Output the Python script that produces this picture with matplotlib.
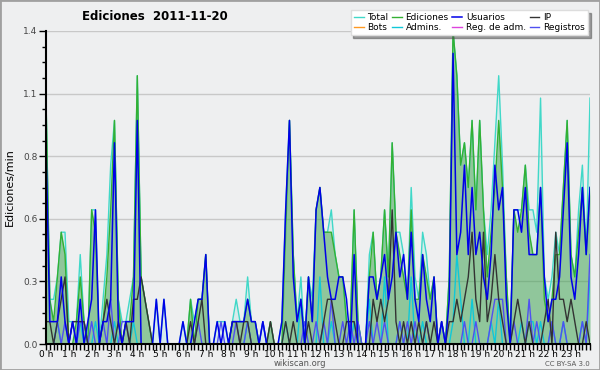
import matplotlib
matplotlib.use("Agg")
import matplotlib.pyplot as plt
import matplotlib.patches as patches
from matplotlib.ticker import FixedLocator, MultipleLocator

# edits per 10-minute slot, 2011-11-20, 144 slots (00:00 .. 23:50)
total = [11, 2, 2, 3, 5, 5, 1, 1, 1, 4, 1, 0, 6, 6, 0, 2, 4, 8,
         10, 2, 1, 1, 2, 3, 12, 3, 2, 1, 0, 2, 0, 2, 0, 0, 0, 0,
         1, 0, 2, 1, 2, 2, 4, 0, 0, 1, 1, 1, 0, 1, 2, 1, 1, 3,
         1, 1, 0, 1, 0, 1, 0, 0, 1, 6, 10, 4, 1, 3, 0, 3, 2, 6,
         7, 5, 5, 6, 4, 3, 3, 1, 1, 6, 1, 0, 0, 4, 5, 2, 3, 6,
         3, 9, 5, 5, 4, 2, 7, 3, 2, 5, 4, 2, 3, 0, 1, 0, 3, 14,
         12, 8, 9, 7, 10, 6, 10, 6, 4, 6, 9, 12, 8, 3, 0, 6, 6, 6,
         8, 6, 6, 5, 11, 3, 2, 3, 5, 4, 7, 10, 4, 3, 6, 8, 4, 11]
ediciones = [11, 2, 1, 3, 5, 4, 0, 0, 1, 3, 1, 0, 6, 5, 0, 1, 3, 6,
             10, 2, 0, 1, 1, 3, 12, 3, 2, 1, 0, 0, 0, 0, 0, 0, 0, 0,
             0, 0, 2, 0, 2, 2, 4, 0, 0, 0, 0, 0, 0, 1, 1, 1, 1, 2,
             1, 1, 0, 0, 0, 1, 0, 0, 0, 5, 10, 4, 1, 2, 0, 3, 1, 6,
             7, 5, 5, 5, 4, 3, 3, 1, 1, 6, 1, 0, 0, 3, 5, 2, 3, 6,
             3, 9, 5, 4, 3, 2, 6, 2, 2, 4, 3, 2, 3, 0, 1, 0, 3, 14,
             12, 8, 9, 7, 10, 6, 10, 6, 3, 5, 7, 10, 7, 3, 0, 6, 5, 6,
             8, 5, 4, 4, 7, 2, 1, 2, 4, 4, 7, 10, 4, 3, 5, 7, 4, 7]
usuarios = [9, 1, 1, 1, 3, 1, 0, 1, 0, 2, 0, 1, 2, 6, 0, 1, 1, 2,
            9, 1, 0, 1, 1, 1, 10, 0, 0, 0, 0, 2, 0, 2, 0, 0, 0, 0,
            1, 0, 0, 1, 2, 2, 4, 0, 0, 1, 0, 1, 0, 1, 1, 1, 1, 2,
            1, 1, 0, 1, 0, 0, 0, 0, 1, 6, 10, 3, 1, 2, 0, 3, 1, 6,
            7, 5, 3, 2, 2, 3, 3, 2, 0, 4, 0, 0, 0, 3, 3, 2, 3, 4,
            2, 3, 5, 3, 4, 2, 5, 2, 1, 4, 2, 1, 3, 0, 1, 0, 2, 13,
            4, 5, 8, 4, 7, 4, 5, 3, 2, 4, 8, 6, 7, 2, 0, 6, 6, 5,
            7, 4, 4, 4, 7, 3, 1, 2, 2, 3, 6, 9, 3, 2, 4, 7, 4, 7]
ip = [1, 1, 0, 1, 2, 3, 0, 1, 1, 1, 1, 0, 0, 0, 0, 1, 2, 1,
      0, 1, 0, 1, 0, 2, 2, 3, 2, 1, 0, 0, 0, 0, 0, 0, 0, 0,
      0, 0, 1, 0, 1, 2, 0, 0, 0, 0, 0, 0, 0, 1, 1, 0, 1, 1,
      0, 0, 0, 0, 0, 1, 0, 0, 0, 1, 0, 1, 0, 0, 0, 1, 0, 0,
      0, 1, 2, 2, 1, 0, 0, 1, 1, 1, 0, 0, 0, 0, 2, 1, 2, 1,
      2, 6, 1, 0, 1, 0, 1, 0, 1, 0, 1, 0, 1, 0, 0, 0, 1, 1,
      2, 1, 2, 3, 5, 2, 1, 5, 1, 2, 4, 2, 1, 0, 0, 1, 2, 1,
      0, 1, 0, 0, 0, 1, 2, 0, 5, 2, 2, 1, 2, 1, 0, 0, 1, 0]
admins = [0, 0, 0, 1, 0, 0, 0, 0, 0, 1, 0, 0, 0, 1, 0, 0, 0, 0,
          1, 0, 0, 0, 0, 1, 0, 0, 0, 0, 0, 0, 0, 0, 0, 0, 0, 0,
          0, 0, 0, 0, 0, 0, 0, 0, 0, 0, 0, 0, 0, 0, 0, 0, 0, 1,
          0, 0, 0, 0, 0, 0, 0, 0, 0, 1, 0, 0, 0, 2, 0, 0, 0, 0,
          3, 0, 0, 1, 0, 0, 0, 0, 0, 1, 0, 0, 0, 2, 0, 0, 0, 3,
          0, 0, 0, 1, 0, 0, 3, 0, 0, 1, 0, 0, 0, 0, 0, 0, 0, 1,
          4, 2, 0, 0, 2, 0, 0, 0, 0, 1, 0, 2, 0, 0, 0, 0, 0, 1,
          0, 1, 1, 0, 1, 0, 0, 1, 0, 0, 1, 0, 0, 0, 0, 1, 0, 3]
registros = [0, 0, 0, 1, 0, 1, 0, 1, 0, 1, 1, 0, 1, 0, 0, 1, 0, 2,
             0, 0, 1, 1, 0, 0, 0, 0, 0, 0, 0, 0, 0, 0, 0, 0, 0, 0,
             0, 0, 0, 0, 1, 0, 0, 0, 0, 0, 1, 0, 0, 0, 1, 0, 0, 1,
             0, 0, 0, 1, 0, 0, 0, 0, 0, 0, 0, 0, 0, 0, 1, 0, 0, 1,
             0, 1, 0, 2, 0, 0, 1, 0, 1, 0, 1, 0, 0, 1, 0, 1, 0, 1,
             0, 0, 0, 1, 0, 1, 0, 1, 0, 0, 1, 0, 0, 0, 1, 0, 0, 0,
             0, 0, 1, 0, 0, 1, 0, 0, 0, 1, 2, 2, 2, 0, 0, 1, 0, 0,
             0, 2, 0, 1, 0, 0, 0, 1, 0, 0, 1, 0, 0, 0, 0, 1, 0, 4]
bots = [0] * 144
reg_adm = [0] * 144

hour_labels = [f"{h} h" for h in range(24)]
y_ticks = [0.0, 0.28, 0.56, 0.84, 1.12, 1.4]

bg = "#eeeff0"
x = [i / 6 for i in range(144)]


def per_min(counts):
    return [c / 10 for c in counts]


fig = plt.figure(figsize=(6, 3.7), dpi=100, facecolor=bg)
ax = fig.add_axes([46 / 600, 26 / 370, 544 / 600, 313 / 370])
ax.set_facecolor(bg)

ax.fill_between(x, per_min(total), color="#40d0c8", alpha=0.12, lw=0, zorder=1)
ax.fill_between(x, per_min(ediciones), color="#3a9a3a", alpha=0.45, lw=0, zorder=1.1)

lines = []
lines.append(ax.plot(x, per_min(total), color="#40d8c8", lw=1.0, label="Total")[0])
lines.append(ax.plot(x, per_min(bots), color="#ff9922", lw=1.0, label="Bots")[0])
lines.append(ax.plot(x, per_min(ediciones), color="#33b033", lw=1.0, label="Ediciones")[0])
lines.append(ax.plot(x, per_min(admins), color="#10c8d8", lw=1.0, label="Admins.")[0])
lines.append(ax.plot(x, per_min(reg_adm), color="#dd44dd", lw=1.0, label="Reg. de adm.")[0])
lines.append(ax.plot(x, per_min(registros), color="#5050f0", lw=1.0, label="Registros")[0])
lines.append(ax.plot(x, per_min(ip), color="#333333", lw=1.0, label="IP")[0])
lines.append(ax.plot(x, per_min(usuarios), color="#0000e8", lw=1.1, label="Usuarios")[0])

ax.set_xlim(0, 143 / 6)
ax.set_ylim(0, 1.4)
ax.xaxis.set_major_locator(FixedLocator(range(24)))
ax.set_xticklabels(hour_labels)
ax.xaxis.set_minor_locator(MultipleLocator(1 / 6))
ax.yaxis.set_major_locator(FixedLocator(y_ticks))
ax.set_yticklabels([f"{v:.1f}" for v in y_ticks])
ax.yaxis.set_minor_locator(MultipleLocator(0.07))
ax.tick_params(axis="both", which="both", direction="out", color="black", width=1)
ax.tick_params(axis="x", which="major", length=4, labelsize=6.5, pad=0.5)
ax.tick_params(axis="x", which="minor", length=4)
ax.tick_params(axis="y", which="major", length=5, labelsize=6.5, labelcolor="#444444", pad=1)
ax.tick_params(axis="y", which="minor", length=3)
ax.grid(True, axis="y", color="#c8c8c8", lw=1)
ax.set_axisbelow(True)
for side in ("top", "right"):
    ax.spines[side].set_visible(False)
for side in ("left", "bottom"):
    ax.spines[side].set_linewidth(1.5)
    ax.spines[side].set_zorder(5)

ax.set_ylabel("Ediciones/min", fontsize=8, labelpad=6)
fig.text(155 / 600, 1 - 16 / 370, "Ediciones  2011-11-20", fontsize=8.5,
         fontweight="bold", ha="center", va="center")
fig.text(300 / 600, 1 - 364 / 370, "wikiscan.org", fontsize=6, color="#555555",
         ha="center", va="center")
fig.text(590 / 600, 1 - 364 / 370, "CC BY-SA 3.0", fontsize=5, color="#555555",
         ha="right", va="center")

order = [0, 1, 2, 3, 7, 4, 6, 5]
leg = fig.legend([lines[k] for k in order], [lines[k].get_label() for k in order],
                 ncol=4, loc="upper right", bbox_to_anchor=(588 / 600, 1 - 10 / 370),
                 fontsize=6.5, frameon=True, shadow=True, fancybox=False,
                 handlelength=1.1, handletextpad=0.4, columnspacing=0.4,
                 labelspacing=0.1, borderpad=0.35, borderaxespad=0)
leg.get_frame().set_edgecolor("#dddddd")
leg.get_frame().set_facecolor("white")

fig.patches.append(patches.Rectangle((0, 0), 1, 1, transform=fig.transFigure,
                                     fill=False, edgecolor="#a0a0a0", lw=2))

fig.savefig("out.png", dpi=100, facecolor=bg)
